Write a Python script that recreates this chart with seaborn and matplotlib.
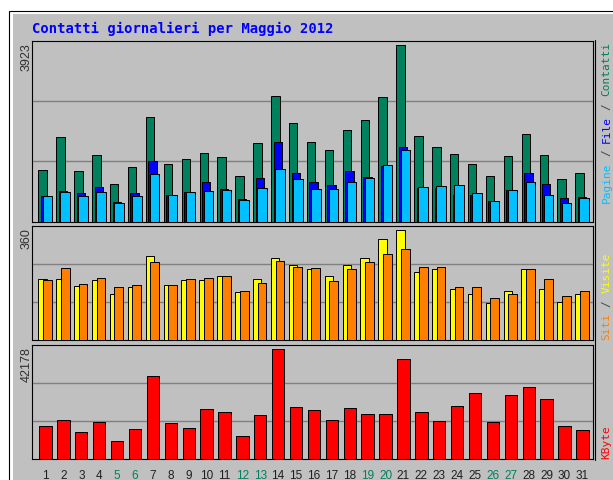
import matplotlib
matplotlib.use("Agg")
import matplotlib.pyplot as plt
from matplotlib.patches import Rectangle
from matplotlib.lines import Line2D
import numpy as np
import pandas as pd
import seaborn as sns

# ---------------- data ----------------
days = list(range(1, 32))
weekend_days = [5, 6, 12, 13, 19, 20, 26, 27]

contatti = [1152, 1872, 1130, 1471, 831, 1210, 2325, 1286, 1398, 1522, 1427,
            1003, 1739, 2802, 2191, 1761, 1583, 2035, 2251, 2771, 3923, 1895,
            1665, 1500, 1286, 1003, 1449, 1946, 1471, 943, 1077]
file_ = [573, 669, 624, 758, 430, 624, 1337, 580, 646, 885, 720, 490, 965,
         1761, 1077, 876, 809, 1130, 996, 1241, 1656, 736, 736, 595, 580, 461,
         707, 1077, 831, 513, 542]
pagine = [573, 646, 573, 646, 408, 573, 1048, 595, 646, 669, 698, 484, 751,
          1175, 943, 729, 729, 885, 965, 1255, 1583, 758, 780, 802, 624, 461,
          698, 885, 595, 408, 513]
visite = [200, 200, 177, 196, 149, 173, 275, 181, 196, 196, 208, 158, 200,
          270, 247, 231, 211, 247, 270, 332, 360, 223, 231, 168, 149, 121, 161,
          231, 168, 126, 149]
siti = [196, 235, 184, 203, 173, 181, 255, 181, 200, 203, 208, 161, 188, 258,
        240, 235, 193, 231, 255, 282, 298, 240, 240, 173, 173, 138, 149, 231,
        200, 145, 161]
kbyte = [12655, 14977, 10333, 14048, 6695, 11339, 31618, 13545, 11726, 19079,
         17802, 8514, 16757, 42178, 20008, 18692, 14977, 19621, 17299, 17299,
         38429, 17802, 14590, 20124, 25155, 14048, 24265, 27477, 22833, 12655,
         10836]

title = "Contatti giornalieri per Maggio 2012"

# ---------------- style ----------------
W, H = 613, 481
BG = "#C0C0C0"
C_CONT = "#00805C"
C_FILE = "#0000FF"
C_PAG = "#00C0FF"
C_VIS = "#FFFF00"
C_SITI = "#FF8000"
C_KB = "#FF0000"
C_SLASH = "#404040"

sns.set_theme(style="white")
plt.rcParams["font.family"] = ["Liberation Sans", "DejaVu Sans"]

fig = plt.figure(figsize=(W / 100, H / 100), dpi=100)
fig.patch.set_facecolor("white")


def fx(px):
    return px / W


def fy(py):
    return 1 - py / H


# outer frame (cropped on right/bottom)
fig.patches.append(Rectangle((fx(8.5), -0.5), 2, fy(11.5) + 0.5, fill=False,
                             edgecolor="black", linewidth=0.8, zorder=-2,
                             transform=fig.transFigure, figure=fig))
fig.patches.append(Rectangle((fx(13), -0.5), 2, fy(15) + 0.5, facecolor=BG,
                             edgecolor="none", zorder=-1,
                             transform=fig.transFigure, figure=fig))

XL, XR = 32, 593
XMIN, XMAX = 0.246, 31.59


def make_panel(top, bottom):
    ax = fig.add_axes([fx(XL), fy(bottom), fx(XR) - fx(XL), (bottom - top) / H])
    ax.set_facecolor(BG)
    for s in ax.spines.values():
        s.set_color("black")
        s.set_linewidth(0.8)
    return ax


def bars(ax, vals, offset, width, color):
    df = pd.DataFrame({"x": [d + offset for d in days], "y": vals})
    sns.barplot(data=df, x="x", y="y", native_scale=True, width=width,
                color=color, saturation=1, edgecolor="black", linewidth=0.7,
                errorbar=None, ax=ax, zorder=3)


def finish(ax, ymax):
    ax.axhline(ymax / 3, color="#808080", lw=1.0, zorder=1)
    ax.axhline(2 * ymax / 3, color="#808080", lw=1.0, zorder=1)
    ax.set_xlim(XMIN, XMAX)
    ax.set_ylim(0, ymax)
    ax.set_yticks([])
    ax.set_xlabel("")
    ax.set_ylabel("")


# panel 1
ax1 = make_panel(41.5, 222.5)
bars(ax1, contatti, -0.16, 0.47, C_CONT)
bars(ax1, file_, -0.02, 0.47, C_FILE)
bars(ax1, pagine, 0.10, 0.53, C_PAG)
finish(ax1, max(contatti) * 1.027)
ax1.set_xticks([])

# panel 2
ax2 = make_panel(226.5, 341)
bars(ax2, visite, -0.17, 0.47, C_VIS)
bars(ax2, siti, 0.10, 0.49, C_SITI)
finish(ax2, max(visite) * 1.041)
ax2.set_xticks([])

# panel 3
ax3 = make_panel(345.5, 459.5)
bars(ax3, kbyte, 0.0, 0.69, C_KB)
finish(ax3, max(kbyte) * 1.041)
ax3.set_xticks(days)
ax3.set_xticklabels([str(d) for d in days], fontsize=8.5)
ax3.tick_params(axis="x", length=0, pad=7.5)
for lbl, d in zip(ax3.get_xticklabels(), days):
    lbl.set_color(C_CONT if d in weekend_days else "#202020")

# right shadow line
fig.add_artist(Line2D([fx(595.3), fx(595.3)], [fy(41), fy(461)], color="black",
                      lw=0.8, transform=fig.transFigure))

# title
fig.text(fx(32), fy(33.3), title, color="#0000FF", fontsize=10,
         family="DejaVu Sans Mono", fontweight="bold", ha="left", va="baseline")

# max labels
for val, top in [(max(contatti), 43.3), (max(visite), 228.3), (max(kbyte), 346.7)]:
    fig.text(fx(26.7), fy(top), str(val), rotation=90, ha="center", va="top",
             fontsize=9, color="#303030")

# right-side legends (vertical, multi-coloured)
ADV = 0.602 * 8 * 100 / 72  # monospace advance in px


def vlegend(bottom, pieces):
    for txt, idx, col in pieces:
        fig.text(fx(606.5), fy(bottom - idx * ADV), txt, rotation=90,
                 ha="center", va="bottom", fontsize=8,
                 family="DejaVu Sans Mono", color=col)


vlegend(203.3, [("Pagine", 0, C_PAG), ("/", 7, C_SLASH), ("File", 9, C_FILE),
                ("/", 14, C_SLASH), ("Contatti", 16, C_CONT)])
vlegend(340.0, [("Siti", 0, C_SITI), ("/", 5, C_SLASH), ("Visite", 7, C_VIS)])
vlegend(459.0, [("KByte", 0, C_KB)])

fig.savefig("out.png", dpi=100)
